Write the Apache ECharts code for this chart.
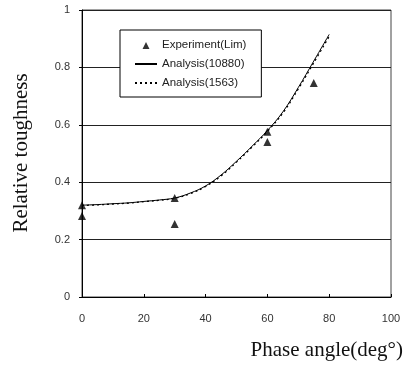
<!DOCTYPE html>
<html>
<head>
<meta charset="utf-8">
<script src="https://cdn.jsdelivr.net/npm/echarts@6/dist/echarts.min.js"></script>
<style>
  html, body { margin: 0; padding: 0; background: #fff; }
  #chart { width: 407px; height: 368px; }
</style>
</head>
<body>
<div id="chart"></div>
<script>
// Measured toughness vs. phase angle
const expAngle = [0, 0, 30, 30, 60, 60, 75];
const expToughness = [0.32, 0.282, 0.345, 0.254, 0.576, 0.54, 0.746];

// Analysis curves
const analysisAngle = [0, 5, 10, 15, 20, 25, 30, 35, 40, 45, 50, 55, 60, 65, 70, 75, 80];
const analysis10880 = [0.320, 0.322, 0.325, 0.328, 0.333, 0.338, 0.345, 0.362, 0.387, 0.425, 0.473, 0.525, 0.580, 0.645, 0.730, 0.822, 0.915];
const analysis1563  = [0.319, 0.321, 0.324, 0.327, 0.332, 0.337, 0.344, 0.360, 0.385, 0.422, 0.470, 0.522, 0.577, 0.641, 0.725, 0.816, 0.908];

const xTicks = [0, 20, 40, 60, 80, 100];
const yTicks = [0, 0.2, 0.4, 0.6, 0.8, 1];

const seriesNames = ['Experiment(Lim)', 'Analysis(10880)', 'Analysis(1563)'];

const pairs = (xs, ys) => xs.map((x, i) => [x, ys[i]]);

// Small triangle centred in a 22x8 legend slot (empty sub-paths fix the bounding box)
const legendTriangle = 'path://M0,0 L0,0.01 Z M22,8 L22,7.99 Z M11,1 L14.5,8 L7.5,8 Z';

const chart = echarts.init(document.getElementById('chart'), null, { renderer: 'canvas' });

const tickFont = { fontFamily: 'Liberation Sans, Arial, sans-serif', fontSize: 11, color: '#333' };

chart.setOption({
  animation: false,
  backgroundColor: '#fff',
  grid: {
    left: 82, right: 16, top: 10, bottom: 71,
    show: true, borderColor: '#444', borderWidth: 1
  },
  legend: {
    orient: 'vertical',
    left: 120, top: 30,
    padding: [9, 15, 8, 14],
    backgroundColor: '#fff',
    borderColor: '#000',
    borderWidth: 1,
    itemWidth: 22,
    itemHeight: 8,
    itemGap: 7,
    textStyle: { fontFamily: 'Liberation Sans, Arial, sans-serif', fontSize: 11.5, color: '#222' },
    data: [
      { name: seriesNames[0], icon: legendTriangle },
      { name: seriesNames[1], itemStyle: { opacity: 0 } },
      { name: seriesNames[2], itemStyle: { opacity: 0 } }
    ]
  },
  xAxis: {
    type: 'value',
    min: xTicks[0], max: xTicks[xTicks.length - 1], interval: 20,
    axisLine: { show: true, lineStyle: { color: '#000', width: 1 } },
    axisTick: { show: true, inside: true, length: 3, lineStyle: { color: '#000' } },
    axisLabel: Object.assign({ margin: 16 }, tickFont),
    splitLine: { show: false }
  },
  yAxis: {
    type: 'value',
    min: yTicks[0], max: yTicks[yTicks.length - 1], interval: 0.2,
    axisLine: { show: true, lineStyle: { color: '#000', width: 1 } },
    axisTick: { show: true, inside: false, length: 3, lineStyle: { color: '#000' } },
    axisLabel: Object.assign({ margin: 12 }, tickFont),
    splitLine: { show: true, lineStyle: { color: '#222', width: 1 } }
  },
  graphic: [
    {
      type: 'text',
      x: 21, y: 153,
      rotation: Math.PI / 2,
      style: {
        text: 'Relative toughness',
        font: '21px "Liberation Serif", "Times New Roman", serif',
        fill: '#111',
        align: 'center',
        verticalAlign: 'middle'
      }
    },
    {
      type: 'text',
      x: 403, y: 350,
      style: {
        text: 'Phase angle(deg°)',
        font: '21px "Liberation Serif", "Times New Roman", serif',
        fill: '#111',
        align: 'right',
        verticalAlign: 'middle'
      }
    }
  ],
  series: [
    {
      name: seriesNames[0],
      type: 'scatter',
      symbol: 'triangle',
      symbolSize: 8,
      itemStyle: { color: '#000' },
      data: pairs(expAngle, expToughness),
      z: 5
    },
    {
      name: seriesNames[1],
      type: 'line',
      smooth: 0.4,
      symbol: 'none',
      itemStyle: { color: '#000' },
      lineStyle: { color: '#000', width: 1 },
      data: pairs(analysisAngle, analysis10880)
    },
    {
      name: seriesNames[2],
      type: 'line',
      smooth: 0.4,
      symbol: 'none',
      itemStyle: { color: '#000' },
      lineStyle: { color: '#000', width: 1.3, type: [2, 3] },
      data: pairs(analysisAngle, analysis1563)
    }
  ]
});
</script>
</body>
</html>
